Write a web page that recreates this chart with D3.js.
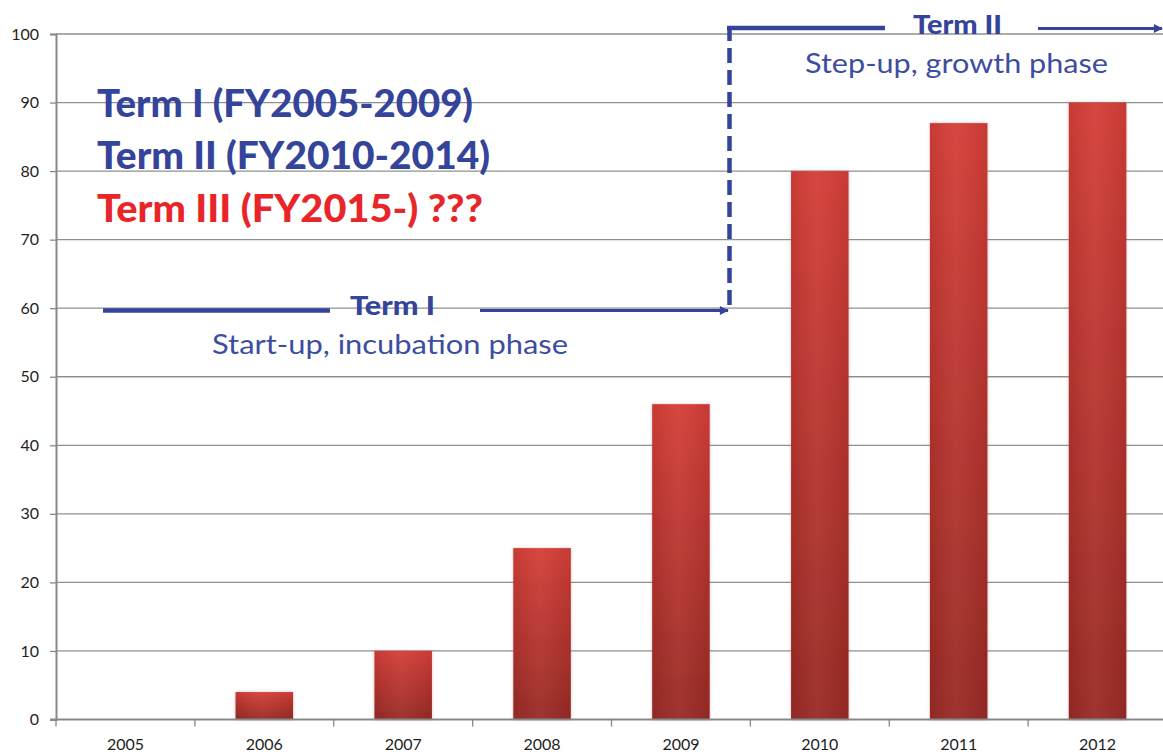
<!DOCTYPE html>
<html>
<head>
<meta charset="utf-8">
<script src="https://cdn.jsdelivr.net/npm/d3@7"></script>
<style>
  html, body { margin: 0; padding: 0; background: #fff; }
  svg { display: block; }
</style>
</head>
<body>
<svg id="chart" width="1163" height="754"></svg>
<script>
// ---- data ----
const years = ["2005", "2006", "2007", "2008", "2009", "2010", "2011", "2012"];
const values = [0, 4, 10, 25, 46, 80, 87, 90];
const yTicks = [0, 10, 20, 30, 40, 50, 60, 70, 80, 90, 100];
const termLines = ["Term I (FY2005-2009)", "Term II (FY2010-2014)", "Term III (FY2015-) ???"];
const termColors = ["#34449a", "#34449a", "#e8262a"];

const svg = d3.select("#chart");
const W = 1163, H = 754;
const x0 = 56, x1 = 1167, yBottom = 719.5, yTop = 34;

const x = d3.scaleBand().domain(years).range([x0, x1]).padding(0);
const y = d3.scaleLinear().domain([0, 100]).range([yBottom, yTop]);

const defs = svg.append("defs");
const grad = defs.append("linearGradient").attr("id", "barGrad")
  .attr("x1", 0).attr("y1", 0).attr("x2", 0).attr("y2", 1);
grad.append("stop").attr("offset", "0%").attr("stop-color", "#d43d37");
grad.append("stop").attr("offset", "100%").attr("stop-color", "#982a25");
const hgrad = defs.append("linearGradient").attr("id", "barSheen")
  .attr("x1", 0).attr("y1", 0).attr("x2", 1).attr("y2", 0);
hgrad.append("stop").attr("offset", "0%").attr("stop-color", "#000").attr("stop-opacity", 0.06);
hgrad.append("stop").attr("offset", "45%").attr("stop-color", "#fff").attr("stop-opacity", 0.05);
hgrad.append("stop").attr("offset", "100%").attr("stop-color", "#000").attr("stop-opacity", 0.06);
const filt = defs.append("filter").attr("id", "glow")
  .attr("x", "-20%").attr("y", "-20%").attr("width", "140%").attr("height", "140%");
filt.append("feDropShadow").attr("dx", 0).attr("dy", 0).attr("stdDeviation", 1.6)
  .attr("flood-color", "#b06060").attr("flood-opacity", 0.45);

const blue = "#34449a";
const arrow = defs.append("marker").attr("id", "arrow")
  .attr("viewBox", "0 0 10 10").attr("refX", 9).attr("refY", 5)
  .attr("markerUnits", "userSpaceOnUse")
  .attr("markerWidth", 11).attr("markerHeight", 9).attr("orient", "auto");
arrow.append("path").attr("d", "M0,0 L10,5 L0,10 Z").attr("fill", blue);

const tfont = "Lato, 'Open Sans', sans-serif";

// gridlines
svg.append("g").selectAll("line").data(yTicks.filter(d => d > 0)).join("line")
  .attr("x1", x0).attr("x2", W).attr("y1", d => y(d)).attr("y2", d => y(d))
  .attr("stroke", "#8f8f8f").attr("stroke-width", 1.3);

// y axis
const yAxis = d3.axisLeft(y).tickValues(yTicks).tickSize(6).tickPadding(11);
const gy = svg.append("g").attr("transform", `translate(${x0},0)`).call(yAxis);
gy.select(".domain").attr("stroke", "#888").attr("stroke-width", 2);
gy.selectAll(".tick line").attr("stroke", "#888").attr("stroke-width", 1.3);
gy.selectAll(".tick text").attr("font-family", tfont)
  .attr("font-size", 16).attr("fill", "#1e1e1e");

// bars
const barData = years.map((yr, i) => ({ yr, v: values[i] })).filter(d => d.v > 0);
const bars = svg.append("g");
bars.selectAll("rect.bar").data(barData).join("rect").attr("class", "bar")
  .attr("x", d => x(d.yr) + x.bandwidth() * 0.293)
  .attr("width", x.bandwidth() * 0.414)
  .attr("y", d => y(d.v))
  .attr("height", d => y(0) - y(d.v))
  .attr("fill", "url(#barGrad)")
  .attr("filter", "url(#glow)");
bars.selectAll("rect.sheen").data(barData).join("rect").attr("class", "sheen")
  .attr("x", d => x(d.yr) + x.bandwidth() * 0.293)
  .attr("width", x.bandwidth() * 0.414)
  .attr("y", d => y(d.v))
  .attr("height", d => y(0) - y(d.v))
  .attr("fill", "url(#barSheen)");

// x axis
svg.append("line").attr("x1", x0 - 6).attr("x2", W).attr("y1", y(0)).attr("y2", y(0))
  .attr("stroke", "#888").attr("stroke-width", 2);
svg.append("g").selectAll("line").data(years.concat(["end"])).join("line")
  .attr("x1", (d, i) => x0 + i * x.bandwidth()).attr("x2", (d, i) => x0 + i * x.bandwidth())
  .attr("y1", y(0)).attr("y2", y(0) + 7)
  .attr("stroke", "#888").attr("stroke-width", 1.3);
svg.append("g").selectAll("text").data(years).join("text")
  .attr("x", d => x(d) + x.bandwidth() / 2).attr("y", 749.5)
  .attr("text-anchor", "middle")
  .attr("font-family", tfont).attr("font-size", 16)
  .attr("fill", "#1e1e1e").text(d => d);

// big term legend text
const bigWidths = [376, 393, 386];
svg.append("g").selectAll("text").data(termLines).join("text")
  .attr("x", 97).attr("y", (d, i) => 116.5 + i * 52.7)
  .attr("font-family", tfont).attr("font-weight", 900).attr("font-size", 38)
  .attr("fill", (d, i) => termColors[i])
  .attr("textLength", (d, i) => bigWidths[i]).attr("lengthAdjust", "spacingAndGlyphs")
  .text(d => d);

// Term I annotation
svg.append("line").attr("x1", 103).attr("x2", 330).attr("y1", 310.5).attr("y2", 310.5)
  .attr("stroke", blue).attr("stroke-width", 4.3);
svg.append("line").attr("x1", 480).attr("x2", 728).attr("y1", 310.5).attr("y2", 310.5)
  .attr("stroke", blue).attr("stroke-width", 3.2).attr("marker-end", "url(#arrow)");
svg.append("text").attr("x", 350).attr("y", 314.5)
  .attr("font-family", tfont).attr("font-weight", 900).attr("font-size", 27)
  .attr("fill", blue).attr("textLength", 85).attr("lengthAdjust", "spacingAndGlyphs")
  .text("Term I");
svg.append("text").attr("x", 212).attr("y", 353.5)
  .attr("font-family", tfont).attr("font-size", 27)
  .attr("fill", "#3d4da0").attr("textLength", 356).attr("lengthAdjust", "spacingAndGlyphs")
  .text("Start-up, incubation phase");

// Term II annotation
svg.append("line").attr("x1", 729.5).attr("x2", 729.5).attr("y1", 305).attr("y2", 29)
  .attr("stroke", blue).attr("stroke-width", 4.5).attr("stroke-dasharray", "15,7");
svg.append("line").attr("x1", 727).attr("x2", 885).attr("y1", 28).attr("y2", 28)
  .attr("stroke", blue).attr("stroke-width", 4.5);
svg.append("line").attr("x1", 1038).attr("x2", 1162).attr("y1", 28.5).attr("y2", 28.5)
  .attr("stroke", blue).attr("stroke-width", 3.2).attr("marker-end", "url(#arrow)");
svg.append("text").attr("x", 913).attr("y", 34)
  .attr("font-family", tfont).attr("font-weight", 900).attr("font-size", 27)
  .attr("fill", blue).attr("textLength", 89).attr("lengthAdjust", "spacingAndGlyphs")
  .text("Term II");
svg.append("text").attr("x", 805).attr("y", 73)
  .attr("font-family", tfont).attr("font-size", 27)
  .attr("fill", "#3d4da0").attr("textLength", 303).attr("lengthAdjust", "spacingAndGlyphs")
  .text("Step-up, growth phase");
</script>
</body>
</html>
